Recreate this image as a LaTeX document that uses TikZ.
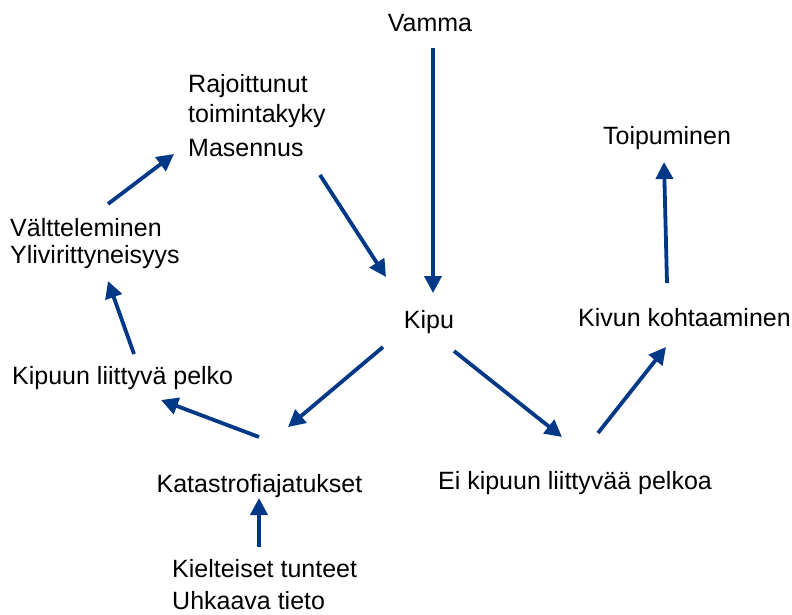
\documentclass[tikz,border=0pt]{standalone}
\usepackage{fontspec}
\setmainfont{Liberation Sans}
\usepackage{tikz}
\usetikzlibrary{arrows.meta}
\usetikzlibrary{positioning}
\definecolor{arrowblue}{RGB}{0,56,136}

\begin{document}
\begin{tikzpicture}[x=1pt, y=-1pt,
    label/.style={inner sep=0pt, font=\fontsize{25}{30}\selectfont, align=left},
    link/.style={arrowblue, line width=3.8pt, -{Triangle[length=17pt, width=17pt]}}]

                    \useasboundingbox (0,0) rectangle (792,615);

                    \node[label, anchor=base] (vamma) at (430,32) {Vamma};
                    \node[label, anchor=base west] (rajo) at (188,157) {Rajoittunut\\toimintakyky\\[4pt]Masennus};
                    \node[label, anchor=base] (toip) at (667,144) {Toipuminen};
                    \node[label, anchor=base west, font=\fontsize{25}{26.5}\selectfont] (valt) at (10,263) {Vältteleminen\\Ylivirittyneisyys};
                    \node[label, anchor=base] (kipu) at (429,328) {Kipu};
                    \node[label, anchor=base east] (kivun) at (791,326) {Kivun kohtaaminen};
                    \node[label, anchor=base west] (pelko) at (12,384) {Kipuun liittyvä pelko};
                    \node[label, anchor=base] (kata) at (259.5,492) {Katastrofiajatukset};
                    \node[label, anchor=base] (ei) at (575,489) {Ei kipuun liittyvää pelkoa};
                    \node[label, anchor=base west, font=\fontsize{25}{32}\selectfont] (kiel) at (172,609) {Kielteiset tunteet\\Uhkaava tieto};

                    \path[link]
                    ([shift={(3,16)}]vamma.base) edge ([shift={(4,-35)}]kipu.base)
                    ([shift={(132,18)}]rajo.base west) edge ([shift={(-43,-51)}]kipu.base)
                    ([shift={(98,-59)}]valt.base west) edge ([shift={(-14,-3)}]rajo.base west)
                    ([shift={(122,-30)}]pelko.base west) edge ([shift={(98,18)}]valt.base west)
                    ([shift={(-0.5,-55)}]kata.base) edge ([shift={(149,16)}]pelko.base west)
                    ([shift={(-46,19)}]kipu.base) edge ([shift={(28.5,-65)}]kata.base)
                    ([shift={(87,-62)}]kiel.base west) edge ([shift={(-0.5,6)}]kata.base)
                    ([shift={(25,23)}]kipu.base) edge ([shift={(-13,-52)}]ei.base)
                    ([shift={(23,-56)}]ei.base) edge ([shift={(-125,21)}]kivun.base east)
                    ([shift={(-124,-43)}]kivun.base east) edge ([shift={(-3,18)}]toip.base);

                \end{tikzpicture}
\end{document}
